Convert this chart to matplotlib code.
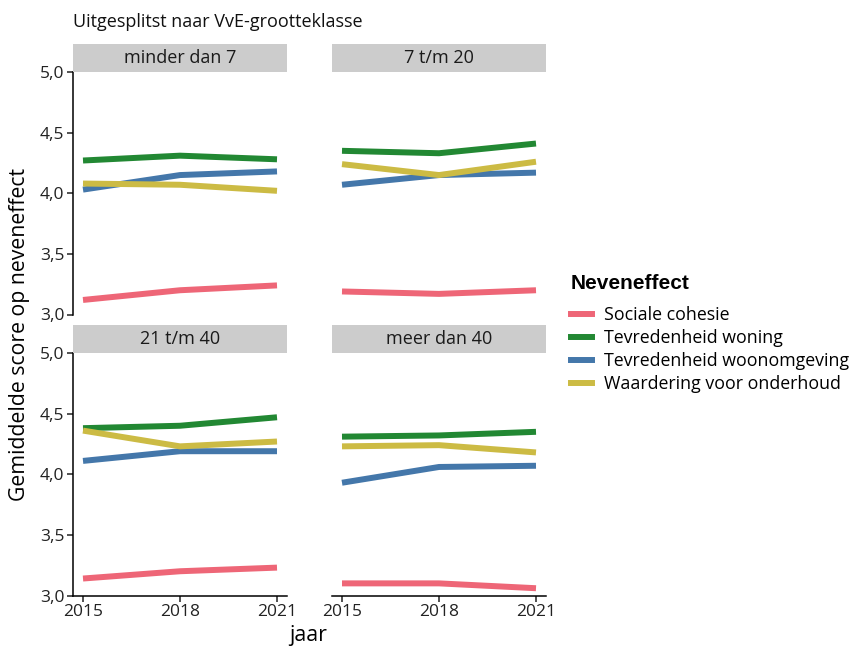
import matplotlib
matplotlib.use("Agg")
import matplotlib.pyplot as plt
from matplotlib.ticker import FuncFormatter
from matplotlib.lines import Line2D

plt.rcParams['font.family'] = ['Open Sans', 'DejaVu Sans']

years = [2015, 2018, 2021]
panels = ["minder dan 7", "7 t/m 20", "21 t/m 40", "meer dan 40"]
series_names = ["Sociale cohesie", "Tevredenheid woning",
                "Tevredenheid woonomgeving", "Waardering voor onderhoud"]
colors = ["#EE6677", "#228833", "#4477AA", "#CCBB44"]

sociale_cohesie = [[3.12, 3.20, 3.24], [3.19, 3.17, 3.20], [3.14, 3.20, 3.23], [3.10, 3.10, 3.06]]
tevredenheid_woning = [[4.27, 4.31, 4.28], [4.35, 4.33, 4.41], [4.38, 4.40, 4.47], [4.31, 4.32, 4.35]]
tevredenheid_woonomgeving = [[4.03, 4.15, 4.18], [4.07, 4.15, 4.17], [4.11, 4.19, 4.19], [3.93, 4.06, 4.07]]
waardering_onderhoud = [[4.08, 4.07, 4.02], [4.24, 4.15, 4.26], [4.36, 4.23, 4.27], [4.23, 4.24, 4.18]]
all_series = [sociale_cohesie, tevredenheid_woning, tevredenheid_woonomgeving, waardering_onderhoud]

W, H = 854, 646
fig = plt.figure(figsize=(W / 100, H / 100), dpi=100)

pw = 213.4
ph = 242.5
lefts = [73.3, 332.3]
tops = [72, 353]
strip_h = 28
fmt = FuncFormatter(lambda v, p: f"{v:.1f}".replace(".", ","))

for i, name in enumerate(panels):
    r, c = divmod(i, 2)
    l = lefts[c]
    t = tops[r]
    ax = fig.add_axes([l / W, (H - t - ph) / H, pw / W, ph / H])
    for s, col in zip(all_series, colors):
        ax.plot(years, s[i], color=col, lw=4.3, solid_capstyle='butt')
    ax.set_xlim(2015 - 0.3, 2021 + 0.3)
    ax.set_ylim(3.0, 5.0)
    ax.set_xticks(years)
    ax.set_yticks([3.0, 3.5, 4.0, 4.5, 5.0])
    ax.yaxis.set_major_formatter(fmt)
    for sp in ["top", "right"]:
        ax.spines[sp].set_visible(False)
    ax.spines["left"].set_visible(c == 0)
    ax.spines["bottom"].set_visible(r == 1)
    for sp in ax.spines.values():
        sp.set_linewidth(1.1)
        sp.set_color("black")
    ax.tick_params(axis='y', left=(c == 0), labelleft=(c == 0), labelsize=12.5,
                   length=4, width=1.1, colors='#222222', pad=2.5)
    ax.tick_params(axis='x', bottom=(r == 1), labelbottom=(r == 1), labelsize=12.5,
                   length=4, width=1.1, colors='#222222', pad=2)
    ax.set_facecolor('none')
    # strip
    sax = fig.add_axes([l / W, (H - t) / H, pw / W, strip_h / H])
    sax.set_facecolor("#CCCCCC")
    sax.set_xticks([]); sax.set_yticks([])
    for sp in sax.spines.values():
        sp.set_visible(False)
    sax.text(0.5, 0.5, name, ha='center', va='center', fontsize=13, color='#1a1a1a',
             transform=sax.transAxes)

fig.text(73 / W, 1 - 22 / H, "Uitgesplitst naar VvE-grootteklasse", ha='left', va='center',
         fontsize=13, color='#111111')
fig.text(20 / W, 1 - 334 / H, "Gemiddelde score op neveneffect", rotation=90,
         ha='center', va='center', fontsize=15.3)
fig.text(308 / W, 1 - 636 / H, "jaar", ha='center', va='center', fontsize=15.3)

handles = [Line2D([0], [0], color=col, lw=4.3) for col in colors]
leg = fig.legend(handles, series_names, loc='upper left', bbox_to_anchor=(555 / W, 1 - 258 / H),
                 frameon=False, fontsize=12.8, handlelength=1.2, handletextpad=0.65,
                 labelspacing=0.28, title="Neveneffect",
                 title_fontproperties={'family': 'Liberation Sans', 'weight': 'bold', 'size': 15})
leg._legend_box.align = "left"
leg._legend_box.sep = 9.3

fig.savefig("out.png", dpi=100)
